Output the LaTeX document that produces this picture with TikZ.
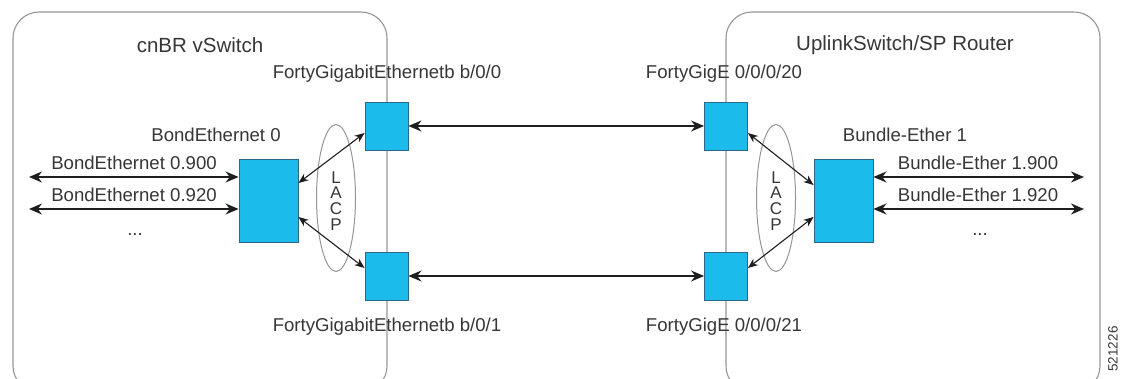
\documentclass[tikz,border=0pt]{standalone}
\usepackage{fontspec}
\setmainfont{Liberation Sans}
\usetikzlibrary{shapes.geometric,arrows.meta,calc}
\definecolor{portfill}{RGB}{27,187,235}
\definecolor{portedge}{RGB}{45,105,135}
\definecolor{boxline}{RGB}{150,150,150}
\definecolor{txt}{RGB}{55,55,55}
\definecolor{arr}{RGB}{30,30,30}
\tikzset{
  container/.style={draw=boxline, line width=1.1pt, rounded corners=26pt},
  port/.style={draw=portedge, fill=portfill, line width=0.9pt, minimum width=43pt, minimum height=48pt, inner sep=0pt},
  bond/.style={draw=portedge, fill=portfill, line width=0.9pt, minimum width=59pt, minimum height=83pt, inner sep=0pt},
  lbl/.style={text=txt, font=\fontsize{18.6}{21}\selectfont, inner sep=0pt},
  ttl/.style={text=txt, font=\fontsize{20.5}{23}\selectfont, inner sep=0pt},
  lacpring/.style={draw=boxline, line width=1pt, ellipse, minimum width=39pt, minimum height=147pt, inner sep=0pt},
  lacptxt/.style={text=txt, font=\fontsize{17}{15.8}\selectfont, align=center, inner sep=0pt},
  biglink/.style={draw=arr, line width=1.4pt, {Stealth[length=13pt,width=11pt]}-{Stealth[length=13pt,width=11pt]}},
  lacplink/.style={draw=arr, line width=1.1pt, {Stealth[length=10pt,width=8pt]}-{Stealth[length=10pt,width=8pt]}},
}
\begin{document}
\begin{tikzpicture}[x=1pt,y=-1pt]
\useasboundingbox (0,0) rectangle (1126,379);
\clip (0,0) rectangle (1126,379);
\fill[white] (0,0) rectangle (1126,379);
% containers
\draw[container] (13,12) rectangle (387,392);
\draw[container] (726,12) rectangle (1100,392);
% titles
\node[ttl] (t1) at (200,45) {cnBR vSwitch};
\node[ttl] (t2) at (905,45) {UplinkSwitch/SP Router};
% ports
\node[port] (sA) at (386.5,126) {};
\node[port] (sB) at (386.5,276) {};
\node[port] (sC) at (726,126) {};
\node[port] (sD) at (726,276) {};
\node[bond] (bL) at (268.5,200.5) {};
\node[bond] (bR) at (843.5,200.5) {};
% port labels
\node[lbl] (lA) at (387,74) {FortyGigabitEthernetb b/0/0};
\node[lbl] (lB) at (387,327) {FortyGigabitEthernetb b/0/1};
\node[lbl] (lC) at (724,74) {FortyGigE 0/0/0/20};
\node[lbl] (lD) at (724,327) {FortyGigE 0/0/0/21};
\node[lbl] (lbL) at (216,135) {BondEthernet 0};
\node[lbl] (lbR) at (905,135) {Bundle-Ether 1};
% LACP rings
\node[lacpring] (eL) at (336,198) {};
\node[lacpring] (eR) at (776,198) {};
\node[lacptxt] (pL) at (336,201) {L\\A\\C\\P};
\node[lacptxt] (pR) at (776,201) {L\\A\\C\\P};
% main links
\draw[biglink] (sA.east) -- (sC.west);
\draw[biglink] (sB.east) -- (sD.west);
% LACP links
\draw[lacplink] ([yshift=17.5pt]bL.east) -- ([yshift=-7pt]sA.west);
\draw[lacplink] ([yshift=-16.5pt]bL.east) -- ([yshift=8pt]sB.west);
\draw[lacplink] ([yshift=-7pt]sC.east) -- ([yshift=15.5pt]bR.west);
\draw[lacplink] ([yshift=8pt]sD.east) -- ([yshift=-16.5pt]bR.west);
% sub-interfaces left
\coordinate (eL1) at (29,177);
\coordinate (eL2) at (29,209);
\draw[biglink] (eL1) -- (bL.west |- eL1);
\draw[biglink] (eL2) -- (bL.west |- eL2);
\node[lbl] (v1) at (134,163) {BondEthernet 0.900};
\node[lbl] (v2) at (134,195) {BondEthernet 0.920};
\node[lbl] (v3) at (135,235) {...};
% sub-interfaces right
\coordinate (eR1) at (1084,177);
\coordinate (eR2) at (1084,209);
\draw[biglink] (bR.east |- eR1) -- (eR1);
\draw[biglink] (bR.east |- eR2) -- (eR2);
\node[lbl] (w1) at (978,163) {Bundle-Ether 1.900};
\node[lbl] (w2) at (978,195) {Bundle-Ether 1.920};
\node[lbl] (w3) at (980,235) {...};
% figure number
\node[text=txt, font=\fontsize{13.5}{15}\selectfont, rotate=90, inner sep=0pt] (fig) at (1113,349) {521226};
\end{tikzpicture}
\end{document}
